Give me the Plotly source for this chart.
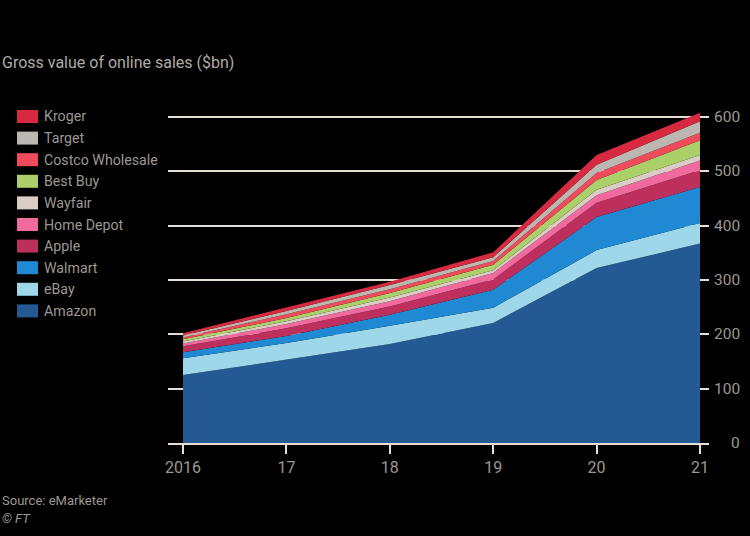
import plotly.graph_objects as go

years = [2016, 2017, 2018, 2019, 2020, 2021]
year_labels = ["2016", "17", "18", "19", "20", "21"]

amazon  = [125, 153, 182, 221, 322, 367]
ebay    = [31, 31, 34, 28, 33, 38]
walmart = [11, 13, 20, 33, 61, 66]
apple   = [11, 14, 15, 19, 26, 31]
home_depot = [5, 8, 10, 12, 14, 18]
wayfair = [4, 5, 7, 5, 10, 10]
best_buy = [4, 6, 8, 10, 18, 27]
costco  = [3, 7, 7, 7, 13, 14]
target  = [4, 6, 8, 7, 15, 21]
kroger  = [4, 7, 6, 9, 18, 16]

series_names = ["Amazon", "eBay", "Walmart", "Apple", "Home Depot", "Wayfair",
                "Best Buy", "Costco Wholesale", "Target", "Kroger"]
series_values = [amazon, ebay, walmart, apple, home_depot, wayfair,
                 best_buy, costco, target, kroger]
colors = ["#245a93", "#9ed6ea", "#1f8ad3", "#bd2f5c", "#f06a9e", "#d9cdc6",
          "#abcf69", "#f14a5a", "#bdb7b1", "#d72a40"]

y_ticks = [0, 100, 200, 300, 400, 500, 600]

W, H = 750, 536
L, R, T, B = 168, 709, 110, 443  # plot area in pixels

fig = go.Figure()
for name, vals, col in zip(series_names, series_values, colors):
    fig.add_trace(go.Scatter(
        x=years, y=vals, name=name, mode="lines", stackgroup="one",
        line=dict(width=0, color=col), fillcolor=col, showlegend=False,
        hoverinfo="x+y+name",
    ))

px_per_year = (700 - 183) / 5.0
x0 = 2016 - (183 - L) / px_per_year
x1 = 2021 + (R - 700) / px_per_year
px_per_unit = (443 - 117) / 600.0
ymax = (B - T) / px_per_unit

def px_x(p):
    return (p - L) / (R - L)

def px_y(p):
    return (B - p) / (B - T)

grid_col = "#e6ddd5"
text_col = "#9b9793"

shapes = []
annotations = []

# manual legend (top item = Kroger)
leg_names = list(reversed(series_names))
leg_cols = list(reversed(colors))
for i, (n, c) in enumerate(zip(leg_names, leg_cols)):
    cy = 116.5 + i * 21.6
    shapes.append(dict(type="rect", xref="paper", yref="paper",
                       x0=px_x(17), x1=px_x(38), y0=px_y(cy - 6.5), y1=px_y(cy + 6.5),
                       fillcolor=c, line=dict(width=0), layer="above"))
    annotations.append(dict(text=n, xref="paper", yref="paper", x=px_x(42), y=px_y(cy),
                            xanchor="left", yanchor="middle", showarrow=False,
                            font=dict(size=14.2, color=text_col)))

# y tick labels (right aligned)
for v in y_ticks:
    annotations.append(dict(text=str(v), xref="paper", yref="y", x=px_x(742), y=v,
                            xanchor="right", yanchor="middle", showarrow=False,
                            font=dict(size=15.5, color=text_col)))

annotations.append(dict(text="Gross value of online sales ($bn)", xref="paper", yref="paper",
                        x=px_x(0), y=px_y(63), xanchor="left", yanchor="middle",
                        showarrow=False, font=dict(size=16, color="#aeaaa6")))
annotations.append(dict(text="Source: eMarketer", xref="paper", yref="paper",
                        x=px_x(0), y=px_y(500), xanchor="left", yanchor="middle",
                        showarrow=False, font=dict(size=13, color=text_col)))
annotations.append(dict(text="<i>© FT</i>", xref="paper", yref="paper",
                        x=px_x(0), y=px_y(518), xanchor="left", yanchor="middle",
                        showarrow=False, font=dict(size=13, color=text_col)))

fig.update_layout(
    width=W, height=H,
    margin=dict(l=L, r=W - R, t=T, b=H - B, pad=0),
    paper_bgcolor="#000000", plot_bgcolor="#000000",
    font=dict(family="Roboto, 'Open Sans', sans-serif", color=text_col),
    showlegend=False,
    xaxis=dict(range=[x0, x1], tickvals=years, ticktext=year_labels,
               showgrid=False, zeroline=False, showline=True, linecolor=grid_col,
               linewidth=2, ticks="outside", ticklen=9, tickwidth=2, tickcolor=grid_col,
               tickfont=dict(size=16, color=text_col), fixedrange=True),
    yaxis=dict(range=[0, ymax], tickvals=y_ticks[1:], showticklabels=False,
               showgrid=True, gridcolor=grid_col, gridwidth=1.8, zeroline=False,
               ticks="", fixedrange=True),
    shapes=shapes,
    annotations=annotations,
)

fig.write_html(
    "out.html",
    config={"displayModeBar": False},
    post_script="document.body.style.margin='0';document.body.style.background='#000';",
)
